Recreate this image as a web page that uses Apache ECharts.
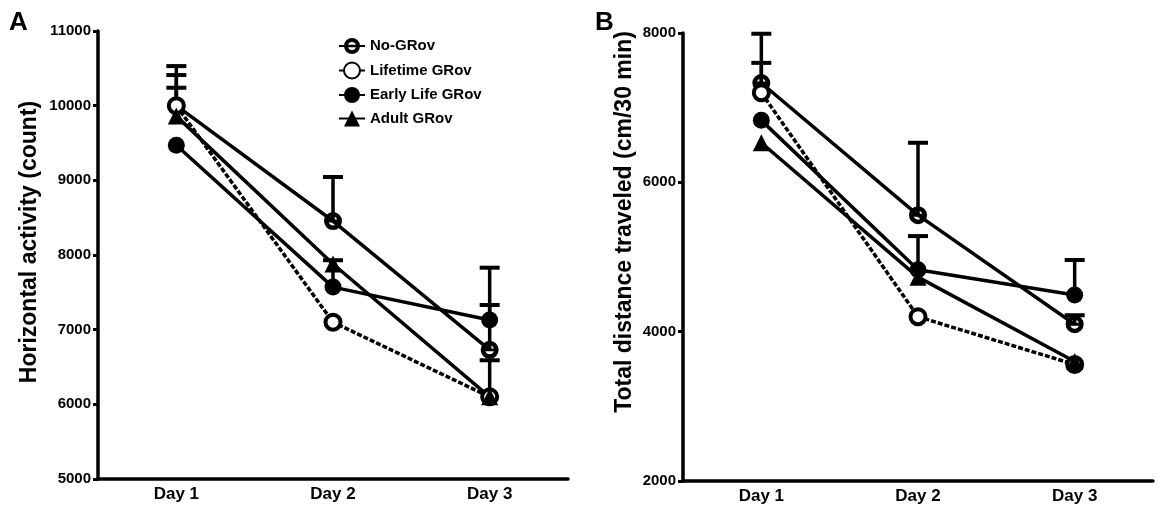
<!DOCTYPE html>
<html>
<head>
<meta charset="utf-8">
<script src="https://cdn.jsdelivr.net/npm/echarts@6/dist/echarts.min.js"></script>
<style>
  html, body { margin: 0; padding: 0; background: #fff; }
  #chart { width: 1158px; height: 507px; }
</style>
</head>
<body>
<div id="chart"></div>
<script>
const days = ['Day 1', 'Day 2', 'Day 3'];
const groups = ['No-GRov', 'Lifetime GRov', 'Early Life GRov', 'Adult GRov'];

// panel A: horizontal activity (count)
const actNoGRov = [10000, 8455, 6730];
const actLifetime = [10000, 7100, 6100];
const actEarly = [9470, 7570, 7130];
const actAdult = [9860, 7880, 6100];
// upper error (SEM), null = not visible
const actNoGRovErr = [530, 590, 1100];
const actLifetimeErr = [410, null, 490];
const actEarlyErr = [null, 360, 200];
const actAdultErr = [380, null, null];

// panel B: total distance traveled (cm/30 min)
const distNoGRov = [7330, 5560, 4100];
const distLifetime = [7200, 4200, 3560];
const distEarly = [6830, 4830, 4490];
const distAdult = [6530, 4730, 3600];
const distNoGRovErr = [660, 970, 120];
const distLifetimeErr = [400, null, null];
const distEarlyErr = [null, 450, 470];
const distAdultErr = [null, null, null];

const font = '"Liberation Sans", Arial, sans-serif';
// ring with a bar across (No-GRov marker)
const barRing = 'path://M10,0 A10,10 0 1,1 10,20 A10,10 0 1,1 10,0 Z M10,5 A5,5 0 1,0 10,15 A5,5 0 1,0 10,5 Z M3,8.4 L17,8.4 L17,11.6 L3,11.6 Z';

const markers = [
  { symbol: barRing, size: 18, itemStyle: { color: '#000' } },
  { symbol: 'circle', size: 15, itemStyle: { color: '#fff', borderColor: '#000', borderWidth: 4 } },
  { symbol: 'circle', size: 17, itemStyle: { color: '#000' } },
  { symbol: 'triangle', size: 17, itemStyle: { color: '#000' } }
];

function lineSeries(name, idx, values, gi) {
  return {
    name: name,
    type: 'line',
    xAxisIndex: gi,
    yAxisIndex: gi,
    data: values,
    symbol: markers[idx].symbol,
    symbolSize: markers[idx].size,
    itemStyle: markers[idx].itemStyle,
    lineStyle: { color: '#000', width: 3.5, type: idx === 1 ? [5, 2] : 'solid' },
    z: 3
  };
}

function errSeries(values, errs, gi) {
  const d = [];
  values.forEach(function (v, i) {
    if (errs[i] != null) d.push([i, v, v + errs[i]]);
  });
  return {
    type: 'custom',
    xAxisIndex: gi,
    yAxisIndex: gi,
    data: d,
    z: 2,
    silent: true,
    renderItem: function (params, api) {
      const p0 = api.coord([api.value(0), api.value(1)]);
      const p1 = api.coord([api.value(0), api.value(2)]);
      const st = { stroke: '#000', lineWidth: 3.5 };
      return {
        type: 'group',
        children: [
          { type: 'line', shape: { x1: p0[0], y1: p0[1], x2: p1[0], y2: p1[1] }, style: st },
          { type: 'line', shape: { x1: p1[0] - 10, y1: p1[1], x2: p1[0] + 10, y2: p1[1] }, style: { stroke: '#000', lineWidth: 4 } }
        ]
      };
    }
  };
}

function yAxis(gi, min, max, interval) {
  return {
    type: 'value',
    gridIndex: gi,
    min: min,
    max: max,
    interval: interval,
    axisLine: { show: true, lineStyle: { color: '#000', width: 3.5 } },
    axisTick: { show: true, length: 5, lineStyle: { color: '#000', width: 3 } },
    axisLabel: {
      fontFamily: font, fontWeight: 'bold', fontSize: 15, color: '#000', margin: 7,
      formatter: function (v) { return String(v); }
    },
    splitLine: { show: false }
  };
}

function xAxis(gi) {
  return {
    type: 'category',
    gridIndex: gi,
    data: days,
    boundaryGap: true,
    axisLine: { lineStyle: { color: '#000', width: 3.5 } },
    axisTick: { show: false },
    axisLabel: { fontFamily: font, fontWeight: 'bold', fontSize: 17, color: '#000', margin: 7 }
  };
}

function axisTitle(text, x, y) {
  return {
    type: 'text', x: x, y: y, rotation: Math.PI / 2,
    style: { text: text, font: 'bold 23px ' + font, fill: '#000', align: 'center', verticalAlign: 'middle' }
  };
}

const chart = echarts.init(document.getElementById('chart'));
chart.setOption({
  animation: false,
  backgroundColor: '#fff',
  grid: [
    { left: 98, right: 590, top: 31, bottom: 28 },
    { left: 683, right: 5, top: 33, bottom: 26 }
  ],
  xAxis: [xAxis(0), xAxis(1)],
  yAxis: [yAxis(0, 5000, 11000, 1000), yAxis(1, 2000, 8000, 2000)],
  legend: {
    data: groups,
    orient: 'vertical',
    left: 333,
    top: 33,
    itemWidth: 26,
    itemHeight: 20,
    itemGap: 7.5,
    textStyle: { fontFamily: font, fontWeight: 'bold', fontSize: 15, color: '#000' }
  },
  graphic: [
    { type: 'text', left: 9, top: 10, style: { text: 'A', font: 'bold 26px ' + font, fill: '#000' } },
    { type: 'text', left: 595, top: 10, style: { text: 'B', font: 'bold 26px ' + font, fill: '#000' } },
    axisTitle('Horizontal activity (count)', 30, 242),
    axisTitle('Total distance traveled (cm/30 min)', 625, 222)
  ],
  series: [
    errSeries(actNoGRov, actNoGRovErr, 0),
    errSeries(actLifetime, actLifetimeErr, 0),
    errSeries(actEarly, actEarlyErr, 0),
    errSeries(actAdult, actAdultErr, 0),
    lineSeries(groups[0], 0, actNoGRov, 0),
    lineSeries(groups[1], 1, actLifetime, 0),
    lineSeries(groups[2], 2, actEarly, 0),
    lineSeries(groups[3], 3, actAdult, 0),
    errSeries(distNoGRov, distNoGRovErr, 1),
    errSeries(distLifetime, distLifetimeErr, 1),
    errSeries(distEarly, distEarlyErr, 1),
    errSeries(distAdult, distAdultErr, 1),
    lineSeries(groups[0], 0, distNoGRov, 1),
    lineSeries(groups[1], 1, distLifetime, 1),
    lineSeries(groups[2], 2, distEarly, 1),
    lineSeries(groups[3], 3, distAdult, 1)
  ]
});
</script>
</body>
</html>
